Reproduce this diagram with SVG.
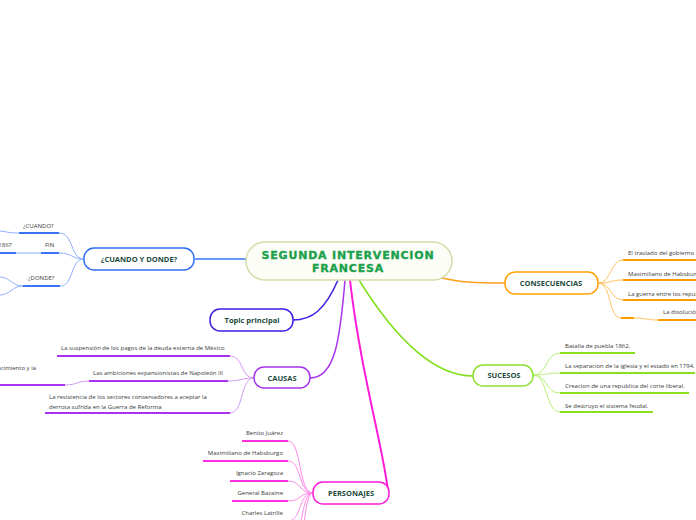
<svg xmlns="http://www.w3.org/2000/svg" width="696" height="520" viewBox="0 0 696 520">
<style>
.lbl{font-family:"Open Sans","Liberation Sans",sans-serif;font-weight:700;font-size:7.5px;fill:#1b4a3c;text-anchor:middle}
.leaf{font-family:"Open Sans","Liberation Sans",sans-serif;font-size:6px;fill:#3a3a3a}
.r{text-anchor:end}
.main{font-family:"DejaVu Sans","Liberation Sans",sans-serif;font-weight:900;font-size:11px;fill:#1ba04b;stroke:#1ba04b;stroke-width:0.35;letter-spacing:0.8px;text-anchor:middle}
.c{fill:none}
.ul{fill:none;stroke-width:2}
.node{fill:#fff;stroke-width:1.5}
</style>
<rect width="696" height="520" fill="#fff"/>
<g id="connectors" fill="none">
  <!-- main connectors -->
  <path d="M195,259 L246,259" stroke="#3a74f5" stroke-width="1.5"/>
  <path d="M438,277 C460,283 480,283 505,283" stroke="#ff9f1a" stroke-width="1.5"/>
  <path d="M359,280 C390,330 430,376 473,376" stroke="#80e01c" stroke-width="1.5"/>
  <path d="M338,280 C325,310 312,320 293,320" stroke="#3b1fe6" stroke-width="1.5"/>
  <path d="M345,280 C340,340 335,378 310,378" stroke="#a832f0" stroke-width="1.5"/>
  <path d="M350,280 C360,370 385,455 388,492" stroke="#ff1ad9" stroke-width="2"/>
  <!-- CUANDO Y DONDE branches -->
  <g stroke="#8fb0ff" stroke-width="1">
    <path d="M84,259 C70,259 74,233 59,233"/>
    <path d="M84,259 C72,259 72,253 59,253"/>
    <path d="M84,259 C70,259 74,286 60,286"/>
    <path d="M19,233 C10,233 8,232 0,231"/>
    <path d="M41,253 L16,253"/>
    <path d="M23,286 C12,286 10,277 0,277"/>
    <path d="M23,286 C12,286 10,295 0,295"/>
  </g>
  <g stroke="#3a74f5" class="ul">
    <path d="M19,233 H59"/>
    <path d="M41,253 H59"/>
    <path d="M0,253 H16"/>
    <path d="M23,286 H60"/>
  </g>
  <!-- CONSECUENCIAS branches -->
  <g stroke="#ffc266" stroke-width="1">
    <path d="M598,283 C612,283 610,260 623,260"/>
    <path d="M598,283 C612,283 610,280 623,280"/>
    <path d="M598,283 C612,283 610,300 623,300"/>
    <path d="M598,283 C612,283 608,318 621,318"/>
    <path d="M634,318 C645,318 647,320 658,320"/>
  </g>
  <g stroke="#ff9a00" class="ul">
    <path d="M623,260 H696"/>
    <path d="M623,280 H696"/>
    <path d="M623,300 H696"/>
    <path d="M621,318 H634"/>
    <path d="M658,320 H696"/>
  </g>
  <!-- SUCESOS branches -->
  <g stroke="#b9f07a" stroke-width="1">
    <path d="M533,375 C548,375 545,353 560,353"/>
    <path d="M533,375 C548,375 545,373 560,373"/>
    <path d="M533,375 C548,375 545,393 560,393"/>
    <path d="M533,375 C548,375 545,412 560,412"/>
  </g>
  <g stroke="#88e020" class="ul">
    <path d="M560,353 H635"/>
    <path d="M560,373 H695"/>
    <path d="M560,393 H689"/>
    <path d="M560,412 H653"/>
  </g>
  <!-- CAUSAS branches -->
  <g stroke="#d49af7" stroke-width="1">
    <path d="M254,378 C240,378 244,356 230,356"/>
    <path d="M254,378 C240,378 242,381 228,381"/>
    <path d="M254,378 C240,378 244,413 230,413"/>
    <path d="M89,381 C76,381 78,385 65,385"/>
  </g>
  <g stroke="#a832f0" class="ul">
    <path d="M57,356 H230"/>
    <path d="M89,381 H228"/>
    <path d="M45,413 H230"/>
    <path d="M0,385 H65"/>
  </g>
  <!-- PERSONAJES branches -->
  <g stroke="#ff8ae8" stroke-width="1">
    <path d="M313,493 C298,493 302,441 288,441"/>
    <path d="M313,493 C298,493 302,461 288,461"/>
    <path d="M313,493 C298,493 302,481 288,481"/>
    <path d="M313,493 C298,493 302,501 288,501"/>
    <path d="M313,493 C298,493 302,521 288,521"/>
    <path d="M313,493 C300,493 304,541 290,541"/>
    <path d="M313,493 C302,493 306,561 292,561"/>
  </g>
  <g stroke="#ff2ee0" class="ul">
    <path d="M242,441 H288"/>
    <path d="M203,461 H288"/>
    <path d="M230,481 H288"/>
    <path d="M232,501 H288"/>
    <path d="M236,521 H288"/>
  </g>
</g>
<g id="central">
  <rect x="246" y="242" width="206" height="38" rx="19" fill="#fcfdf6" stroke="#d5dcaa" stroke-width="1.5"/>
  <text class="main" x="348" y="259">SEGUNDA INTERVENCION</text>
  <text class="main" x="348" y="272">FRANCESA</text>
</g>
<g id="cuando">
  <rect class="node" x="84" y="248" width="110" height="22" rx="10" stroke="#2f6df6"/>
  <text class="lbl" x="139" y="262">¿CUANDO Y DONDE?</text>
  <text class="leaf" x="23" y="228">¿CUANDO?</text>
  <text class="leaf" x="45" y="247">FIN</text>
  <text class="leaf r" x="12" y="247">1867</text>
  <text class="leaf" x="28" y="280">¿DONDE?</text>
</g>
<g id="consecuencias">
  <rect class="node" x="505" y="272" width="93" height="22" rx="10" stroke="#ffa000"/>
  <text class="lbl" x="551" y="286">CONSECUENCIAS</text>
  <text class="leaf" x="628" y="255">El traslado del gobierno a</text>
  <text class="leaf" x="628" y="276">Maximiliano de Habsburgo</text>
  <text class="leaf" x="628" y="296">La guerra entre los republicanos</text>
  <text class="leaf" x="663" y="314">La disolución</text>
</g>
<g id="sucesos">
  <rect class="node" x="473" y="365" width="60" height="21" rx="10" stroke="#8ee02e"/>
  <text class="lbl" x="504" y="378">SUCESOS</text>
  <text class="leaf" x="565" y="348">Batalla de puebla 1862.</text>
  <text class="leaf" x="565" y="368">La separacion de la iglesia y el estado en 1794.</text>
  <text class="leaf" x="565" y="388">Creacion de una republica del corte liberal.</text>
  <text class="leaf" x="565" y="408">Se destruyo el sistema feudal.</text>
</g>
<g id="topic">
  <rect class="node" x="210" y="309" width="83" height="22" rx="10" stroke="#3b1fe6"/>
  <text class="lbl" x="252" y="323">Topic principal</text>
</g>
<g id="causas">
  <rect class="node" x="254" y="367" width="56" height="21" rx="10" stroke="#a832f0"/>
  <text class="lbl" x="282" y="381">CAUSAS</text>
  <text class="leaf" x="61" y="350">La suspensión de los pagos de la deuda externa de México</text>
  <text class="leaf" x="93" y="375">Las ambiciones expansionistas de Napoleón III</text>
  <text class="leaf r" x="36" y="370">nacimiento y la</text>
  <text class="leaf" x="49" y="399">La resistencia de los sectores conservadores a aceptar la</text>
  <text class="leaf" x="49" y="409">derrota sufrida en la Guerra de Reforma</text>
</g>
<g id="personajes">
  <rect class="node" x="313" y="482" width="76" height="22" rx="10" stroke="#ff1ad9"/>
  <text class="lbl" x="351" y="496">PERSONAJES</text>
  <text class="leaf r" x="283" y="435">Benito Juárez</text>
  <text class="leaf r" x="283" y="455">Maximiliano de Habsburgo</text>
  <text class="leaf r" x="283" y="475">Ignacio Zaragoza</text>
  <text class="leaf r" x="283" y="495">General Bazaine</text>
  <text class="leaf r" x="283" y="515">Charles Latrille</text>
</g>
</svg>
